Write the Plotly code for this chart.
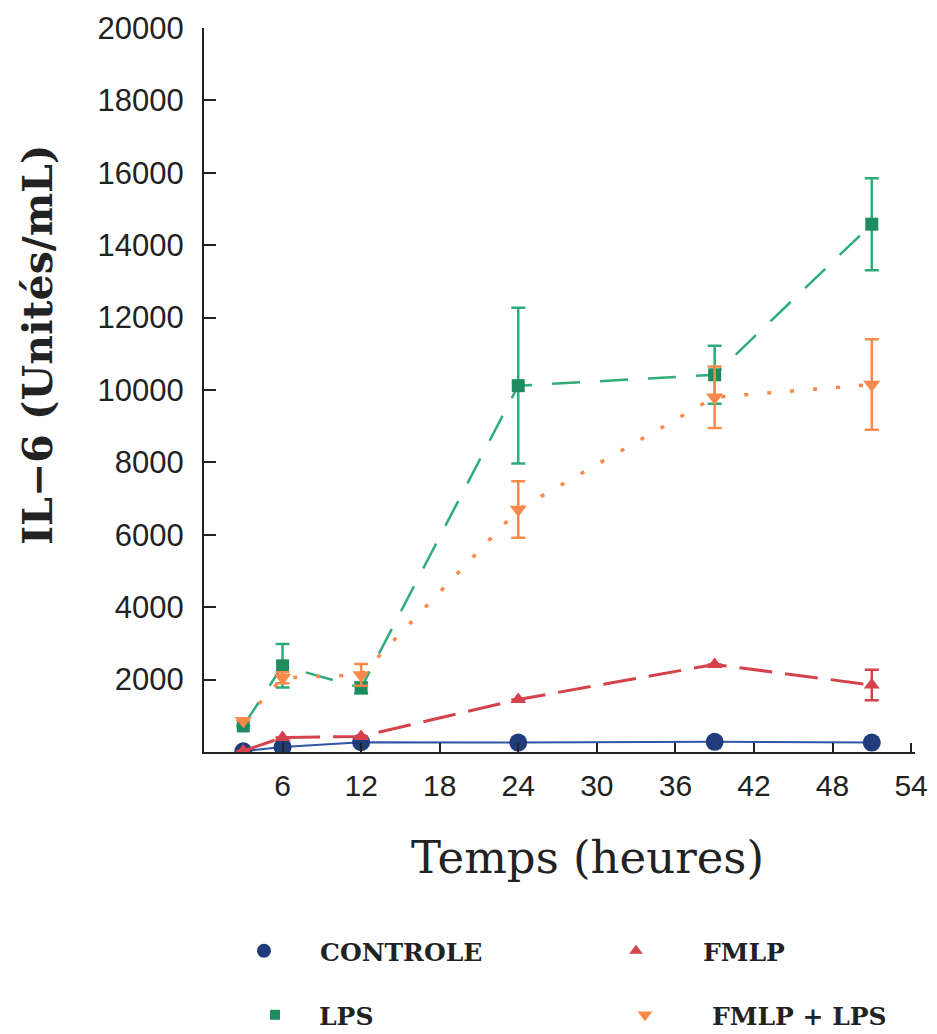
import plotly.graph_objects as go

# ---- data ----
hours = [3, 6, 12, 24, 39, 51]

controle = [20, 140, 270, 260, 280, 260]

fmlp = [30, 400, 430, 1450, 2420, 1850]
fmlp_err = [0, 0, 0, 0, 0, 420]

lps = [720, 2380, 1770, 10120, 10420, 14580]
lps_err = [0, 600, 150, 2150, 800, 1270]

fmlp_lps = [860, 2050, 2130, 6700, 9800, 10150]
fmlp_lps_err = [0, 150, 300, 780, 850, 1250]

x_ticks = [6, 12, 18, 24, 30, 36, 42, 48, 54]
y_ticks = [2000, 4000, 6000, 8000, 10000, 12000, 14000, 16000, 18000, 20000]
y_ticktext = [str(v) for v in y_ticks]

names = ["CONTROLE", "FMLP", "LPS", "FMLP + LPS"]

# ---- styles ----
c_blue_line, c_blue_mark = "#2F55A6", "#203C7A"
c_red = "#D6424C"
c_green_line, c_green_mark = "#2EAC7A", "#1F8C5F"
c_orange = "#F7894B"

fig = go.Figure()

fig.add_trace(go.Scatter(
    x=hours, y=controle, mode="lines+markers", showlegend=False,
    line=dict(color=c_blue_line, width=2),
    marker=dict(symbol="circle", size=18, color=c_blue_mark)))

fig.add_trace(go.Scatter(
    x=hours, y=fmlp, mode="lines+markers", showlegend=False,
    line=dict(color=c_red, width=3, dash="33px,13px"),
    marker=dict(symbol="triangle-up", size=14, color=c_red),
    error_y=dict(type="data", array=fmlp_err, color=c_red, thickness=2.5, width=7)))

fig.add_trace(go.Scatter(
    x=hours, y=lps, mode="lines+markers", showlegend=False,
    line=dict(color=c_green_line, width=2.5, dash="28px,20px"),
    marker=dict(symbol="square", size=13, color=c_green_mark),
    error_y=dict(type="data", array=lps_err, color=c_green_line, thickness=2.5, width=7)))

fig.add_trace(go.Scatter(
    x=hours, y=fmlp_lps, mode="lines+markers", showlegend=False,
    line=dict(color=c_orange, width=3.5, dash="4px,19px"),
    marker=dict(symbol="triangle-down", size=15, color=c_orange),
    error_y=dict(type="data", array=fmlp_lps_err, color=c_orange, thickness=2.5, width=7)))

# legend-only marker entries, one small legend each
leg_specs = [
    (names[0], "circle", 14, c_blue_mark, "legend"),
    (names[1], "triangle-up", 12, c_red, "legend2"),
    (names[2], "square", 10, c_green_mark, "legend3"),
    (names[3], "triangle-down", 13, c_orange, "legend4"),
]
for nm, sym, sz, col, lg in leg_specs:
    fig.add_trace(go.Scatter(
        x=[None], y=[None], mode="markers", name=nm, legend=lg,
        marker=dict(symbol=sym, size=sz, color=col)))

leg_font = dict(family="DejaVu Serif", size=25, color="#222", weight="bold")


def leg(x, y, iw):
    return dict(x=x, y=y, xanchor="left", yanchor="middle", font=leg_font,
                bgcolor="rgba(0,0,0,0)", itemwidth=iw)


fig.update_layout(
    width=937, height=1034,
    margin=dict(l=204, r=22, t=28, b=282, autoexpand=False),
    paper_bgcolor="white", plot_bgcolor="white",
    legend=leg(0.0056, -0.2749, 102),
    legend2=leg(0.5134, -0.2749, 124),
    legend3=leg(0.038, -0.3633, 78),
    legend4=leg(0.526, -0.3633, 124),
    xaxis=dict(
        range=[0, 54.3], tickvals=x_ticks, ticks="inside", ticklen=9, tickwidth=2,
        tickcolor="#222", showline=True, linecolor="#222", linewidth=2,
        showgrid=False, zeroline=False, automargin=False, ticklabelstandoff=6,
        tickfont=dict(family="Liberation Sans", size=30, color="#222")),
    yaxis=dict(
        range=[0, 20000], tickvals=y_ticks, ticktext=y_ticktext,
        ticks="inside", ticklen=12, tickwidth=2,
        tickcolor="#222", showline=True, linecolor="#222", linewidth=2,
        showgrid=False, zeroline=False, automargin=False, ticklabelstandoff=12,
        tickfont=dict(family="Liberation Sans", size=31, color="#222")),
    annotations=[
        dict(text="IL−6 (Unités/mL)", textangle=-90, xref="paper", yref="paper",
             x=-0.2335, y=0.562, xanchor="center", yanchor="middle", showarrow=False,
             font=dict(family="DejaVu Serif", size=41, color="#222", weight="bold")),
        dict(text="Temps (heures)", xref="paper", yref="paper",
             x=0.539, y=-0.146, xanchor="center", yanchor="middle", showarrow=False,
             font=dict(family="DejaVu Serif", size=45, color="#222")),
    ],
)

fig.write_html("out.html", config={"displayModeBar": False},
               post_script="document.body.style.margin='0';")
